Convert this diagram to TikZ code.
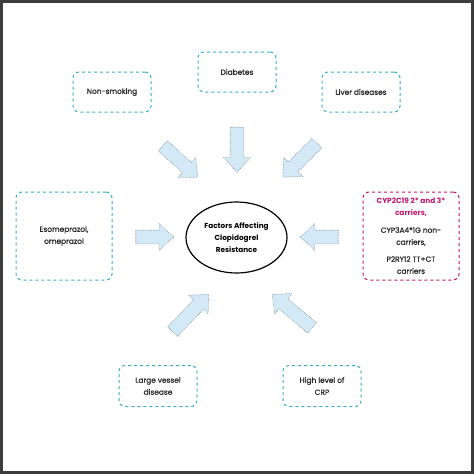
\documentclass[tikz,border=0pt]{standalone}
\usepackage{fontspec}
\setmainfont{Poppins}[FakeBold=0.7]
\newfontfamily\boldfam{Poppins Bold}
\usetikzlibrary{shapes.arrows,shapes.geometric}
\definecolor{boxcyan}{HTML}{3AAFCB}
\definecolor{boxmag}{HTML}{C2176E}
\definecolor{arrfill}{HTML}{D3EAF6}
\definecolor{arrline}{HTML}{7A8A94}
\definecolor{frame}{HTML}{3C3C3C}
\tikzset{
  factor/.style={draw=boxcyan, dashed, line width=1pt, rounded corners=6pt,
    align=center, font=\fontsize{7.4}{12}\selectfont, text=black!85},
  blockarrow/.style={single arrow, draw=arrline, densely dotted, line width=0.6pt,
    fill=arrfill, inner sep=6.5pt, single arrow head extend=6.5pt,
    single arrow tip angle=85, minimum width=26pt},
}
\begin{document}
\begin{tikzpicture}[x=1pt,y=-1pt]
\useasboundingbox (0,0) rectangle (474,474);
\fill[white] (0,0) rectangle (474,474);
\draw[frame, line width=3pt] (1.5,1.5) rectangle (472.5,472.5);

\node[factor, minimum width=78pt, minimum height=40pt] (nonsmoking) at (112,92) {Non-smoking};
\node[factor, minimum width=78pt, minimum height=40pt] (diabetes) at (237,72) {Diabetes};
\node[factor, minimum width=78pt, minimum height=40pt] (liver) at (361,92) {Liver diseases};
\node[factor, minimum width=96pt, minimum height=88pt] (esome) at (64,236) {Esomeprazol,\\omeprazol};
\node[factor, draw=boxmag, minimum width=96pt, minimum height=88pt] (cyp) at (411,236)
  {\textcolor{boxmag}{\boldfam CYP2C19 2* and 3*}\\\textcolor{boxmag}{\boldfam carriers,}\\[5pt]CYP3A4*1G non-\\carriers,\\[5pt]P2RY12 TT+CT\\carriers};
\node[factor, minimum width=78pt, minimum height=41pt] (vessel) at (158,386) {Large vessel\\disease};
\node[factor, minimum width=78pt, minimum height=41pt] (crp) at (322,386) {High level of\\CRP};

\node[ellipse, draw=black, line width=1.2pt, minimum width=101pt, minimum height=71pt,
  align=center, inner sep=0pt, font=\boldfam\fontsize{7.3}{12}\selectfont] (center) at (236.5,237.5)
  {Factors Affecting\\Clopidogrel\\Resistance};

\node[blockarrow, minimum height=45pt, rotate=-90] (a1) at (237,146) {};
\node[blockarrow, minimum height=47pt, rotate=-42] (a2) at (177.5,159) {};
\node[blockarrow, minimum height=48pt, rotate=-135] (a3) at (302.5,157.5) {};
\node[blockarrow, minimum height=38pt, rotate=0] (a4) at (151,237) {};
\node[blockarrow, minimum height=38pt, rotate=180] (a5) at (323,237) {};
\node[blockarrow, minimum height=52pt, rotate=46] (a6) at (188,315.5) {};
\node[blockarrow, minimum height=52pt, rotate=140] (a7) at (295,313.5) {};
\end{tikzpicture}
\end{document}
